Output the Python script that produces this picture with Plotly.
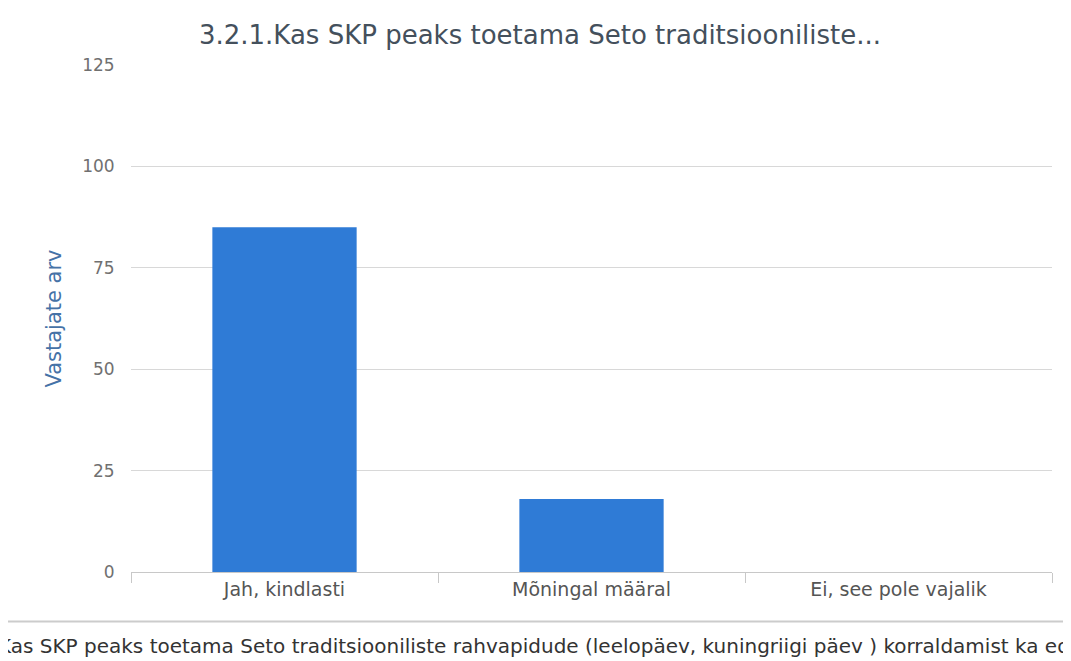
import plotly.graph_objects as go

categories = ["Jah, kindlasti", "Mõningal määral", "Ei, see pole vajalik"]
values = [85, 18, 0]
y_ticks = [0, 25, 50, 75, 100, 125]

title_text = "3.2.1.Kas SKP peaks toetama Seto traditsiooniliste..."
caption_text = ("Kas SKP peaks toetama Seto traditsiooniliste rahvapidude "
                "(leelopäev, kuningriigi päev ) korraldamist ka edaspidi?")

L, R, T, B = 123, 27, 57, 97
PW = 1071 - L - R
PH = 661 - T - B
FONT = "DejaVu Sans"

fig = go.Figure()
fig.add_trace(go.Bar(
    x=categories, y=values,
    marker=dict(color="#2f7bd6", line=dict(width=0)),
    showlegend=False,
))

fig.update_layout(
    width=1071, height=661,
    paper_bgcolor="white", plot_bgcolor="white",
    margin=dict(l=L, r=R, t=T, b=B, autoexpand=False),
    bargap=0.53,
    font=dict(family=FONT, size=12, color="#606060"),
    title=dict(text=title_text, x=532 / 1071, xanchor="center", y=1 - 27 / 661, yanchor="middle",
               font=dict(family=FONT, size=26, color="#44505c")),
    xaxis=dict(
        showline=True, linecolor="#c8c8c8", linewidth=1,
        ticks="outside", tickson="boundaries", ticklen=10, tickcolor="#c8c8c8",
        tickfont=dict(family=FONT, size=19, color="#555555"),
        showgrid=False,
    ),
    yaxis=dict(
        range=[0, 125], tickvals=y_ticks, showgrid=True, gridcolor="#d8d8d8",
        zeroline=False, showline=False,
        ticks="outside", ticklen=12, tickcolor="rgba(0,0,0,0)",
        tickfont=dict(family=FONT, size=17, color="#707070"),
        title=dict(text="Vastajate arv", font=dict(family=FONT, size=21, color="#4572a7"), standoff=14),
    ),
)

fig.add_shape(type="line", xref="paper", yref="paper",
              x0=(-8 - L) / PW, x1=(1071 - L) / PW, y0=-49.5 / PH, y1=-49.5 / PH,
              line=dict(color="#cccccc", width=2))
fig.add_annotation(text=caption_text, xref="paper", yref="paper",
                   x=(-12 - L) / PW, xanchor="left", y=-74 / PH, yanchor="middle",
                   showarrow=False, font=dict(family=FONT, size=20, color="#333333"))

fig.write_html("out.html")
